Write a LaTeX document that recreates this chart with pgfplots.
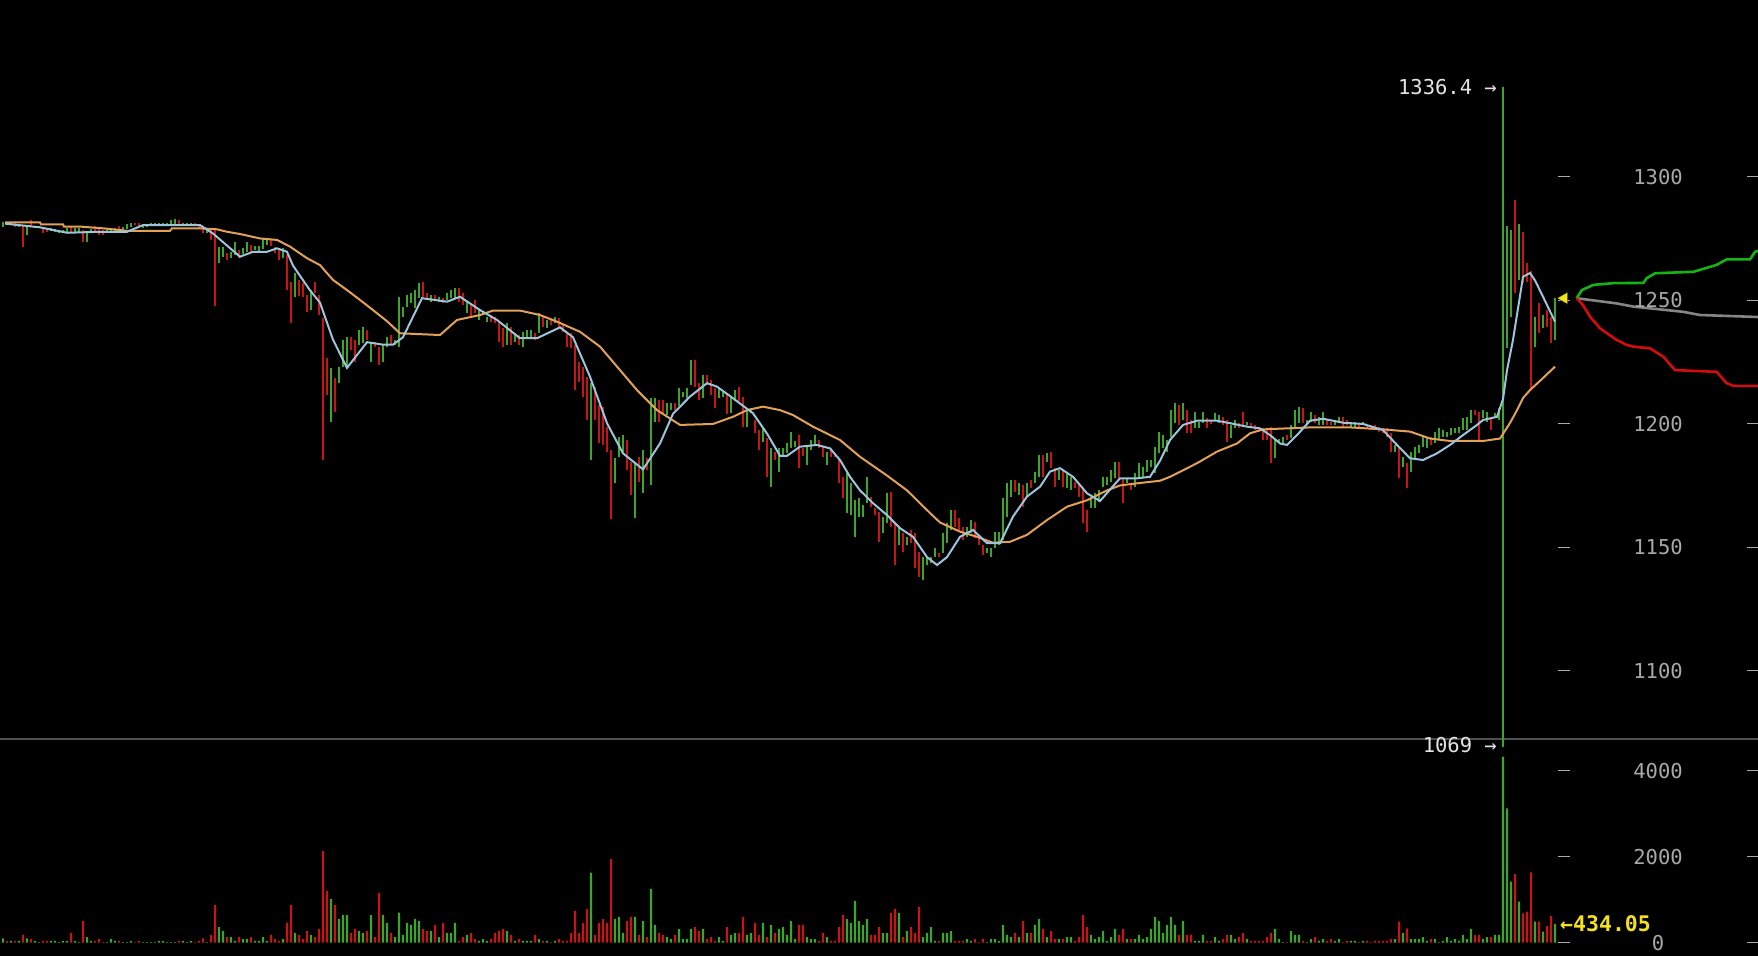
\documentclass[border=0pt]{standalone}
\usepackage{pgfplots}
\pgfplotsset{compat=1.18}
\usepackage{pgfplotstable}
\usepackage{fontspec}
\newfontfamily\mono{DejaVu Sans Mono}

\definecolor{bup}{HTML}{3DA62A}
\definecolor{bdn}{HTML}{C81414}
\definecolor{mafast}{HTML}{9CC4DC}
\definecolor{maslow}{HTML}{E3A157}
\definecolor{lbl}{HTML}{A8A8A8}
\definecolor{hilo}{HTML}{E4E4E4}
\definecolor{volc}{HTML}{F2E21E}
\definecolor{sep}{HTML}{505050}
\definecolor{askc}{HTML}{14B414}
\definecolor{bidc}{HTML}{D40C0C}
\definecolor{midc}{HTML}{858585}

% i = bar index, c = 1 up / 0 down, lo hi = price range, v = volume
\pgfplotstableread{
i c lo hi v
0 1 1279.5 1281.8 100
1 0 1280.4 1281.8 40
2 1 1280.4 1281.1 40
3 0 1279.8 1281.1 40
4 1 1279.8 1280.4 40
5 0 1271.4 1280.4 180
6 1 1276.4 1279.5 100
7 0 1279.8 1282.5 85
8 1 1279.1 1280 40
9 1 1279.5 1280 15
10 0 1277.1 1279.8 40
11 0 1277.7 1279.1 40
12 1 1278.1 1279.1 40
13 1 1277.7 1278.7 40
14 1 1277.3 1278.4 15
15 1 1277.5 1278.4 40
16 1 1277.7 1279.1 40
17 0 1277.7 1279.5 230
18 1 1277.7 1279.1 40
19 1 1277.7 1279.1 15
20 0 1273.7 1278.4 500
21 1 1273.7 1277.7 130
22 1 1277.7 1278.7 40
23 0 1277.1 1280 40
24 0 1276.4 1278.7 85
25 0 1276.4 1278.4 15
26 1 1277.3 1278.4 15
27 1 1277.7 1278.7 85
28 1 1277.7 1279.1 40
29 0 1278.1 1280 40
30 1 1278.1 1279.5 15
31 1 1278.7 1280.8 15
32 1 1279.5 1281.1 40
33 0 1280.4 1281.1 15
34 0 1279.8 1281.1 40
35 1 1279.1 1280.4 15
36 1 1279.8 1280.4 15
37 1 1280.4 1281.1 15
38 1 1280.4 1281.1 15
39 1 1280.4 1281.1 40
40 1 1280.4 1281.1 40
41 1 1280.6 1281.1 15
42 1 1280.4 1282.5 15
43 1 1280.4 1282.7 15
44 0 1280.4 1282.5 40
45 1 1280.6 1281.1 40
46 1 1280.4 1281.1 15
47 1 1280.4 1281.1 40
48 0 1280.4 1281.1 15
49 0 1279.1 1280.4 40
50 0 1277.1 1279.8 100
51 1 1277.1 1278.7 15
52 0 1274.4 1278.4 180
53 0 1247.7 1278.7 875
54 1 1264.9 1271.7 365
55 1 1267.6 1271.7 270
56 0 1266.3 1269 130
57 1 1267 1269.6 130
58 1 1268.3 1273.7 40
59 0 1267 1270.3 130
60 1 1268.7 1271 85
61 1 1269.6 1273.7 85
62 0 1269.6 1272.3 130
63 1 1270.3 1271.9 40
64 1 1269.6 1271.9 40
65 1 1270.6 1275.1 130
66 1 1272.3 1274.7 40
67 0 1271.9 1274.7 180
68 0 1269 1271.7 85
69 0 1266.3 1270.3 40
70 1 1267 1271 85
71 0 1254.1 1268.3 465
72 0 1240.6 1257.5 875
73 1 1251.4 1260.9 225
74 0 1251.7 1258.2 180
75 0 1251.4 1256.8 85
76 0 1245.3 1252 270
77 1 1246 1254 180
78 0 1252.8 1257.5 130
79 0 1244 1252 320
80 0 1185.3 1242.7 2130
81 0 1211.6 1226.5 1200
82 1 1200.8 1222.4 1020
83 0 1204.9 1218.4 875
84 1 1216.4 1223.1 550
85 1 1223.1 1233.9 640
86 1 1223.1 1235.2 640
87 0 1229.8 1235.2 225
88 0 1225.1 1233.9 320
89 1 1231.9 1237.9 270
90 1 1232.6 1239.3 225
91 0 1233.9 1237.9 270
92 1 1225.1 1233.2 640
93 0 1231.2 1233.2 130
94 0 1223.8 1231.2 1155
95 1 1225.1 1231.9 640
96 1 1231.2 1235.2 460
97 0 1231.9 1235.9 225
98 1 1232 1234 130
99 1 1231.2 1251.4 700
100 1 1243.3 1247.4 180
101 1 1247.4 1252.1 460
102 1 1248.7 1252.8 410
103 1 1246.7 1254.1 550
104 1 1250.8 1256.8 500
105 0 1251.4 1257.5 320
106 0 1250.1 1252.8 270
107 1 1249.4 1252.1 270
108 0 1249.8 1252.1 410
109 1 1249.4 1251.4 130
110 0 1248.7 1250.8 460
111 1 1250.1 1252.8 225
112 1 1251 1254.1 225
113 1 1250.8 1254.8 460
114 0 1249.4 1254.8 40
115 0 1248.1 1252.8 130
116 1 1244.7 1249.4 180
117 0 1242.7 1248.7 225
118 0 1244.7 1250.1 85
119 1 1242 1246 40
120 1 1244.7 1245.3 85
121 1 1241.3 1243.3 40
122 0 1241.3 1244 85
123 0 1240.6 1243.3 225
124 0 1233.2 1241.3 270
125 0 1231.2 1238.6 320
126 1 1231.9 1240.6 270
127 0 1231.9 1239.3 180
128 1 1233.2 1236.6 40
129 0 1231.9 1235.9 85
130 1 1231.2 1237.2 40
131 1 1234.6 1237.9 40
132 1 1234.6 1237.9 40
133 0 1234 1236.6 180
134 1 1236.6 1244.7 85
135 0 1239.3 1243.3 40
136 1 1238.6 1242 40
137 0 1240 1242.7 15
138 1 1240.6 1243.3 40
139 0 1238.6 1242.7 85
140 0 1237.2 1240 40
141 0 1231.2 1237.2 40
142 0 1230.5 1236.6 225
143 0 1213.6 1231.9 740
144 0 1217 1225.1 225
145 0 1211 1223.1 460
146 0 1201.5 1219 780
147 1 1185.3 1216.4 1630
148 0 1201.5 1215 180
149 0 1192 1207.6 460
150 0 1191.4 1206.9 550
151 0 1188.7 1198.8 460
152 0 1161.3 1189.3 1945
153 1 1176 1186 550
154 1 1186.6 1194.7 600
155 1 1188.7 1195.4 225
156 0 1181.3 1193.4 500
157 0 1171.1 1184.6 600
158 1 1161.7 1184.6 600
159 0 1176.5 1186.6 180
160 1 1171.8 1189.3 500
161 0 1181.3 1186 130
162 1 1175.2 1210.4 1250
163 1 1200.8 1210.4 410
164 0 1200.8 1209.6 225
165 0 1204.5 1209.6 180
166 1 1203.5 1208.3 130
167 1 1205.5 1208.3 85
168 0 1205.5 1208.3 180
169 1 1207 1214.4 320
170 1 1211 1213 85
171 1 1210.3 1214.3 85
172 1 1215.7 1225.8 320
173 0 1215 1225.8 365
174 0 1209.6 1216.4 270
175 1 1210.3 1219.6 320
176 0 1215.7 1219.7 85
177 0 1211.6 1217.7 130
178 0 1206.4 1214.4 40
179 1 1210.3 1214.3 130
180 1 1211 1213 40
181 0 1204 1211.6 365
182 1 1204.2 1210.9 180
183 1 1209 1213.6 225
184 0 1209 1215 225
185 0 1198.8 1211 600
186 1 1198.8 1205.5 180
187 1 1204.2 1206.2 225
188 0 1196.1 1201.5 460
189 0 1189.4 1197.4 180
190 1 1192.7 1198.8 460
191 0 1178.5 1194.2 130
192 1 1174.5 1190 410
193 0 1185.3 1188.7 225
194 1 1180.6 1190.2 320
195 1 1187.3 1190.2 365
196 1 1188 1192 180
197 1 1190 1196.8 500
198 1 1190.5 1193 85
199 0 1182 1195.4 410
200 0 1187 1190 410
201 1 1183.3 1190.7 130
202 1 1189.3 1193.4 85
203 1 1191.4 1195.4 85
204 0 1190 1193.4 40
205 0 1186.6 1190.7 225
206 1 1183.3 1188.7 130
207 0 1186.6 1190 40
208 0 1186.6 1188 40
209 0 1175.9 1185.3 365
210 0 1169.8 1178.5 640
211 1 1163.7 1180 550
212 1 1163 1175.9 460
213 1 1154.2 1169 970
214 1 1162.3 1169.8 500
215 1 1162.3 1167.1 410
216 1 1167.8 1178.5 550
217 0 1166.4 1170.4 180
218 0 1163 1165.7 180
219 0 1152.2 1164.4 365
220 1 1155.6 1162.3 225
221 1 1159.7 1171.8 225
222 0 1158.3 1172.5 690
223 0 1142.8 1159.7 780
224 1 1150.9 1158.3 690
225 0 1148.2 1155.6 130
226 1 1150.9 1154.3 270
227 0 1151.6 1156.9 365
228 0 1141.5 1155.6 225
229 0 1138.1 1148.2 830
230 1 1136.7 1146.2 130
231 1 1142.8 1146.2 225
232 1 1143.5 1146.2 365
233 1 1146.2 1149.6 40
234 0 1146.2 1147.5 40
235 1 1147.6 1155.6 225
236 1 1151.6 1159.7 225
237 1 1157 1165.1 270
238 0 1158.3 1165.1 40
239 0 1156.9 1161.7 40
240 0 1152.9 1158.3 40
241 1 1154.3 1158.3 85
242 1 1155.6 1161 40
243 0 1153.6 1160.3 85
244 0 1150.9 1154.3 15
245 0 1146.8 1150.9 85
246 1 1147.5 1149.6 15
247 1 1146.2 1149.6 85
248 1 1149.6 1156.3 85
249 1 1150.9 1156.3 40
250 1 1152.9 1169.8 410
251 1 1162.4 1175.9 180
252 1 1170.4 1177.2 130
253 0 1172.5 1177.2 225
254 1 1171.1 1175.9 130
255 0 1166.4 1175.2 500
256 1 1170.4 1175.9 225
257 0 1173.8 1177.2 225
258 1 1175.9 1180.6 410
259 1 1178.5 1187.3 550
260 0 1178.5 1187.3 320
261 1 1184.6 1188 130
262 0 1181.9 1188.7 270
263 0 1174.5 1181.9 85
264 1 1177.2 1181.3 85
265 0 1174.5 1181.3 85
266 1 1173.8 1179.9 130
267 1 1173.2 1178.5 130
268 0 1173.8 1176.5 40
269 0 1170.4 1175.9 130
270 0 1159.7 1173 640
271 0 1156.3 1165 365
272 1 1165.7 1170.4 180
273 1 1165.7 1171.8 85
274 1 1168.4 1173.2 130
275 1 1174.5 1178.5 270
276 1 1175.2 1178.5 40
277 1 1176.5 1181.3 130
278 1 1177.9 1184.6 320
279 0 1177.2 1184.6 180
280 0 1167.8 1178 320
281 1 1175.9 1177.9 85
282 0 1173.2 1175.9 85
283 1 1174.5 1179.9 85
284 1 1177.9 1183.9 180
285 1 1178.5 1182.6 85
286 1 1180.6 1185.3 130
287 1 1182.6 1185.3 320
288 1 1180 1190.7 600
289 1 1188 1196.8 500
290 1 1190 1195.4 225
291 1 1188.7 1193.4 410
292 1 1194.7 1205.5 600
293 1 1200.2 1208.3 410
294 0 1199.5 1207.6 180
295 1 1201.5 1208.3 500
296 0 1196.1 1205.5 180
297 0 1196.1 1201.5 180
298 1 1198.1 1204.9 40
299 1 1198.1 1200.8 40
300 1 1200.2 1204.9 180
301 0 1198.1 1202.2 40
302 0 1200 1201.5 40
303 1 1201.5 1204.2 130
304 1 1200.2 1203.5 40
305 0 1199.5 1202.8 85
306 0 1192.7 1201.5 180
307 1 1194.1 1199.5 180
308 1 1198.1 1201.5 85
309 0 1198.1 1200.2 130
310 0 1199.5 1204.9 225
311 1 1199.5 1200.8 85
312 0 1198.1 1200.2 40
313 0 1197.4 1199.5 40
314 0 1196.8 1198.8 40
315 0 1193.4 1198.1 40
316 0 1193.4 1197.4 130
317 0 1184 1198.8 225
318 1 1186 1194 320
319 1 1192 1194 85
320 1 1192 1194.7 15
321 0 1193.4 1195.4 15
322 1 1194.1 1199.5 270
323 1 1198.1 1205.5 180
324 1 1200.2 1206.9 180
325 0 1200.2 1206.2 40
326 1 1199.5 1201.5 15
327 1 1200.8 1204.9 85
328 0 1200.2 1203.5 130
329 1 1199.5 1202.8 40
330 1 1199.5 1204.9 85
331 0 1199.5 1201.5 40
332 0 1199.5 1200.8 85
333 1 1199.5 1201.5 40
334 1 1200.2 1202.8 85
335 0 1198.8 1202.8 15
336 0 1199.5 1201.5 40
337 1 1198.8 1200.8 40
338 1 1198.8 1200.8 40
339 0 1198.1 1200.2 15
340 1 1199.5 1200.8 40
341 0 1198.1 1199.5 40
342 0 1197.4 1199.5 15
343 0 1197.4 1199.5 40
344 0 1196.8 1198.8 40
345 0 1196.1 1198.1 40
346 0 1194.7 1198.1 40
347 0 1188.7 1196.1 85
348 1 1188.7 1191.4 85
349 0 1177.9 1190.7 488
350 1 1182.6 1186.6 225
351 0 1173.8 1184 333
352 1 1180.6 1188.7 85
353 1 1186 1190.7 85
354 1 1188 1191.4 85
355 1 1190.7 1194.7 130
356 1 1190 1194.1 40
357 0 1191.4 1194.7 85
358 1 1192 1196.8 85
359 1 1193.4 1198.1 15
360 1 1194.7 1197.4 40
361 1 1194.7 1196.8 130
362 1 1195.4 1198.1 40
363 1 1196.1 1198.1 85
364 1 1196.1 1198.8 40
365 1 1197.4 1202.2 180
366 1 1197.4 1202.8 85
367 1 1200.2 1205.5 320
368 0 1203.5 1205.5 180
369 0 1193.4 1204.9 180
370 1 1202.2 1205.5 85
371 1 1200.8 1204.9 130
372 0 1197.4 1202.8 130
373 1 1202.2 1204.2 180
374 1 1201.5 1206.2 180
375 1 1069 1336.4 4325
376 1 1230.6 1280 3123
377 1 1243 1278.4 1418
378 0 1252.8 1290.6 1597
379 1 1258 1281 953
380 0 1257 1277.7 682
381 0 1257.4 1265 721
382 0 1213.6 1262 1635
383 1 1231.2 1243 488
384 0 1236.6 1248.8 488
385 1 1238.7 1244 256
386 0 1239.2 1246 388
387 0 1232.6 1243 620
388 1 1233.9 1250.9 434
}\bars

\pgfplotsset{
  up/.style={restrict expr to domain={\thisrow{c}}{0.5:1.5}},
  down/.style={restrict expr to domain={\thisrow{c}}{-0.5:0.5}},
  chartpanel/.style={
    anchor=south west, scale only axis, width=1758bp,
    xmin=-0.75, xmax=438.75, hide axis, clip=false,
  },
}
\tikzset{lab/.style={font=\mono\fontsize{20.5bp}{24bp}\selectfont, inner sep=0pt}}

\begin{document}
\begin{tikzpicture}
\fill[black] (0,0) rectangle (1758bp,956bp);

% price panel
\begin{axis}[chartpanel, at={(0,217bp)}, height=739bp,
  ymin=1072.35, ymax=1371.54]
\draw[sep, line width=1.6bp] (axis cs:-0.75,1072.35) -- (axis cs:438.75,1072.35);

\addplot[draw=none, mark=none, up,
  error bars/.cd, y dir=plus, y explicit, error mark=none,
  error bar style={draw=bup, line width=2.2bp}]
  table[x=i, y=lo, y error plus expr=\thisrow{hi}-\thisrow{lo}] {\bars};
\addplot[draw=none, mark=none, down,
  error bars/.cd, y dir=plus, y explicit, error mark=none,
  error bar style={draw=bdn, line width=2.2bp}]
  table[x=i, y=lo, y error plus expr=\thisrow{hi}-\thisrow{lo}] {\bars};

% slow moving average
\addplot[maslow, line width=2bp, mark=none] coordinates {
(0.5,1281.5) (9.25,1281.5) (9.5,1280.7) (15,1280.7) (15.25,1279.8) (19.25,1279.8)
(25,1279.1) (31,1278.1) (41.75,1278.1) (42.25,1279.1) (49.25,1279.1) (53.5,1278.7)
(56,1277.7) (59.25,1276.8) (64.25,1275) (68.5,1274.4) (71.75,1271.7) (76,1267)
(79.25,1264.2) (82.5,1258.2) (86,1254.1) (89.25,1250.1) (92.5,1246) (96,1241.5)
(99.25,1236.6) (109.25,1235.9) (113.5,1242) (119.25,1244) (122.5,1245.8) (129.25,1245.8)
(134.25,1244) (138.5,1241.3) (144.25,1237.2) (149.25,1231.2) (154.25,1221.7) (158.5,1213.6)
(163.5,1205.5) (169.25,1199.5) (177.5,1199.9) (182.5,1202.8) (186,1205.5) (190,1206.9)
(194.25,1205.5) (197.5,1203.5) (202.5,1198.8) (209.25,1193.4) (214.25,1186.6) (221,1179)
(226,1173) (231,1165) (234.25,1160) (239.25,1156.3) (243.5,1154.2) (247.5,1151.8)
(251.75,1152.2) (256,1155) (261,1161) (266,1166.4) (271,1169) (276,1173)
(279.25,1175) (284.25,1176) (289.25,1176.9) (291.75,1178.5) (298.5,1184) (303.5,1188.7)
(308.5,1192) (311.75,1196.1) (315,1197.7) (326.75,1198.5) (336.75,1198.5) (345,1197.7)
(351.75,1196.8) (356.75,1194) (361.75,1193) (370,1193) (374.25,1194) (376.75,1200.3)
(378.5,1205.5) (380,1210.4) (381.75,1213.6) (385,1218.5) (388,1223.1)
};
% fast moving average
\addplot[mafast, line width=2bp, mark=none] coordinates {
(0.5,1281) (9.25,1279.5) (16,1277.3) (24.25,1277.7) (31,1277.7) (35,1280.4)
(49.25,1280.4) (52.5,1277) (59.25,1267.6) (62.5,1269.6) (66,1269.6) (68.5,1271)
(71,1269.6) (72.5,1264) (76.75,1254) (79.25,1249) (82.5,1234) (86,1222.6)
(91,1233) (95,1232) (97.5,1232) (100,1235) (104.75,1250.8) (111,1249.4)
(114.25,1251.4) (119.25,1246) (123.5,1242) (129.25,1234.6) (133.5,1234.6) (139.25,1239)
(142.5,1235) (146.75,1219) (151,1200.2) (155,1188) (160,1181.5) (164.25,1192)
(167.5,1204) (171.75,1211) (176,1216.4) (178.5,1215) (182.5,1210.3) (187.5,1204.2)
(191,1196) (194.25,1187) (196,1187) (199.25,1190.7) (203.5,1191.4) (206.75,1190)
(209.25,1185.3) (211.75,1178.5) (214.25,1173) (217.5,1167.8) (221,1163) (224.25,1157.7)
(227.5,1154.2) (231,1146) (233.5,1142.8) (236,1146) (239.25,1154.2) (242.5,1157)
(246,1151.6) (249.25,1151.6) (252.5,1162.4) (256,1170.5) (259.25,1174.5) (261.75,1180.6)
(264.25,1182) (267.5,1178.5) (271,1171.8) (274.25,1168.7) (279.25,1177.9) (283.5,1177.9)
(286.75,1178.5) (289.25,1185) (291.75,1193.4) (295,1199.5) (298.5,1201.2) (303.5,1201.2)
(306.75,1200.2) (311,1198.8) (314.25,1198.1) (316.75,1195.4) (319.25,1192) (321,1191.4)
(323.5,1195.4) (326.75,1201.2) (330,1202) (335,1200.4) (340,1199.9) (345,1197.4)
(348.5,1191.4) (351.75,1186) (355,1185.3) (358.5,1188) (361.75,1191.4) (365,1195.4)
(368.5,1199.5) (370,1201.5) (373.5,1202.8) (375,1210) (376,1221.7) (377.5,1234)
(380,1259.5) (381.75,1261) (383,1258) (385,1251.4) (388,1241.3)
};

% projections
\addplot[midc, line width=2.6bp, mark=none] coordinates {
(393.4,1250.8) (403.4,1248.7) (407.6,1247.4) (420,1245.3) (424.25,1244) (436.75,1243.3) (438.75,1243.2)};
\addplot[askc, line width=2.6bp, mark=none] coordinates {
(393.4,1250.8) (394.7,1254.1) (397.6,1256.2) (402.6,1256.9) (410.1,1257) (410.9,1258.9)
(413,1260.9) (422.6,1261.5) (428.4,1264.3) (430.9,1266.5) (436.75,1266.5) (438,1269.6) (438.75,1270)};
\addplot[bidc, line width=2.6bp, mark=none] coordinates {
(393.4,1250.8) (395,1248) (396.75,1243.3) (399.25,1238.6) (403.4,1233.9) (405.9,1231.9)
(407.6,1231.2) (411.75,1230.5) (415.1,1227.1) (418,1221.7) (428.4,1221) (430.9,1216.4)
(432.6,1215.3) (438.75,1215.3)};
\addplot[only marks, mark=triangle*, mark size=7bp,
  mark options={rotate=90, fill=volc, draw=none}] coordinates {(390.25,1250.8)};

% right scale
\pgfplotsinvokeforeach{1100,1150,1200,1250,1300}{
  \draw[lbl, line width=1.2bp] (axis cs:388.75,#1) -- (axis cs:391.75,#1);
  \draw[lbl, line width=1.2bp] (axis cs:436,#1) -- (axis cs:438.75,#1);
  \node[lab, text=lbl] at (axis cs:413.75,#1) {#1};
}
\node[lab, text=hilo, anchor=east] at (axis cs:373.5,1336.4) {1336.4 →};
\node[lab, text=hilo, anchor=east] at (axis cs:373.5,1069.9) {1069 →};
\end{axis}

% volume panel
\begin{axis}[chartpanel, at={(0,0)}, height=217bp,
  ymin=-309.3, ymax=4737]
\addplot[ybar, bar width=2.2bp, bar shift=0pt, fill=bup, draw=none, up]
  table[x=i, y=v] {\bars};
\addplot[ybar, bar width=2.2bp, bar shift=0pt, fill=bdn, draw=none, down]
  table[x=i, y=v] {\bars};
\pgfplotsinvokeforeach{0,2000,4000}{
  \draw[lbl, line width=1.2bp] (axis cs:388.75,#1) -- (axis cs:391.75,#1);
  \draw[lbl, line width=1.2bp] (axis cs:436,#1) -- (axis cs:438.75,#1);
  \node[lab, text=lbl] at (axis cs:413.75,#1) {#1};
}
\node[lab, text=volc, anchor=west, font=\mono\bfseries\fontsize{21.5bp}{24bp}\selectfont]
  at (axis cs:389.25,451) {←434.05};
\end{axis}

\pgfresetboundingbox
\useasboundingbox (0,0) rectangle (1758bp,956bp);
\end{tikzpicture}
\end{document}
